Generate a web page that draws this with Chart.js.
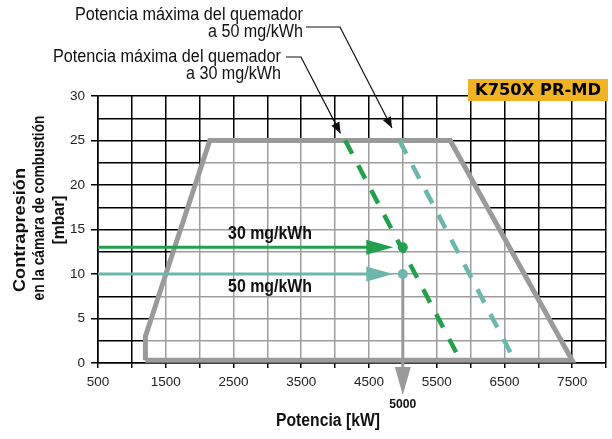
<!DOCTYPE html>
<html><head><meta charset="utf-8">
<script src="https://cdn.jsdelivr.net/npm/chart.js@4/dist/chart.umd.min.js"></script>
<style>html,body{margin:0;padding:0;background:#fff}#wrap{width:612px;height:439px;position:relative}</style>
</head><body><div id="wrap"><canvas id="c" width="612" height="439"></canvas></div>
<script>
// ---- data ----
const xTickLabels = [500, 1500, 2500, 3500, 4500, 5500, 6500, 7500];
const yTickLabels = [0, 5, 10, 15, 20, 25, 30];
const fieldX = [1200, 1200, 2150, 5700, 7500, 1200];
const fieldY = [0.3, 3, 25, 25, 0.3, 0.3];
const max30X = [4150, 5850];
const max30Y = [25, 0.3];
const max50X = [4950, 6650];
const max50Y = [25, 0.3];
const emissionLabels = ['30 mg/kWh', '50 mg/kWh'];
const opX = [5000, 5000];
const opY = [13, 10];
const arrowTipX = [4860, 4860];
const selectedPower = 5000;
const noteTipX = [4840, 4080];
const noteTipY = [26.4, 25.8];
const notes = [['Potencia máxima del quemador', 'a 50 mg/kWh'], ['Potencia máxima del quemador', 'a 30 mg/kWh']];
const modelName = 'K750X PR-MD';
const xTitle = 'Potencia [kW]';
const yTitle = ['Contrapresión', 'en la cámara de combustión', '[mbar]'];

const GREEN = '#22a04b', TEAL = '#6cb7ac', GREY = '#9a9a9a';
const SANS = "'Liberation Sans',Arial,sans-serif";

function fitText(ctx, text, x, y, width, font, align) {
  ctx.save();
  ctx.font = font;
  const m = ctx.measureText(text).width;
  const s = width / m;
  ctx.translate(x, y);
  ctx.scale(s, 1);
  ctx.textAlign = align || 'center';
  ctx.textBaseline = 'middle';
  ctx.fillText(text, 0, 0);
  ctx.restore();
}

const deco = {
  id: 'deco',
  afterDatasetDraw(chart, args) {
    if (args.index !== 1) return;
    const {ctx, scales: {x, y}, chartArea} = chart;
    ctx.save();
    // vertical selector line with arrow
    const px = x.getPixelForValue(selectedPower);
    const pyTop = y.getPixelForValue(opY[1]);
    const yb = chartArea.bottom;
    ctx.strokeStyle = GREY; ctx.fillStyle = GREY; ctx.lineWidth = 3;
    ctx.beginPath(); ctx.moveTo(px, pyTop); ctx.lineTo(px, yb + 6); ctx.stroke();
    ctx.beginPath(); ctx.moveTo(px - 8, yb + 4); ctx.lineTo(px + 8, yb + 4); ctx.lineTo(px, yb + 32); ctx.closePath(); ctx.fill();
    // horizontal arrows
    [GREEN, TEAL].forEach((col, i) => {
      const yy = y.getPixelForValue(opY[i]);
      const x0 = x.getPixelForValue(x.min);
      const xt = x.getPixelForValue(arrowTipX[i]);
      ctx.strokeStyle = col; ctx.fillStyle = col; ctx.lineWidth = 3;
      ctx.beginPath(); ctx.moveTo(x0, yy); ctx.lineTo(xt - 20, yy); ctx.stroke();
      ctx.beginPath(); ctx.moveTo(xt - 27, yy - 7.5); ctx.lineTo(xt, yy); ctx.lineTo(xt - 27, yy + 7.5); ctx.closePath(); ctx.fill();
    });
    ctx.restore();
  },
  afterDraw(chart) {
    const {ctx, scales: {x, y}} = chart;
    ctx.save();
    ctx.fillStyle = '#111';
    // emission labels
    const lx = x.getPixelForValue(3040);
    fitText(ctx, emissionLabels[0], lx, y.getPixelForValue(opY[0]) - 13, 84, 'bold 18px ' + SANS);
    fitText(ctx, emissionLabels[1], lx, y.getPixelForValue(opY[1]) + 13, 84, 'bold 18px ' + SANS);
    // 5000 label
    fitText(ctx, String(selectedPower), x.getPixelForValue(selectedPower), 404, 27, 'bold 13px ' + SANS);
    // axis titles
    fitText(ctx, xTitle, 328, 421, 104, 'bold 18px ' + SANS);
    const yc = [[20.5, 230, 124], [39.5, 208, 185], [59, 220, 49]];
    yTitle.forEach((t, i) => {
      ctx.save();
      ctx.translate(yc[i][0], yc[i][1]);
      ctx.rotate(-Math.PI / 2);
      fitText(ctx, t, 0, 0, yc[i][2], 'bold 17px ' + SANS);
      ctx.restore();
    });
    // notes
    const noteFont = '17.5px ' + SANS;
    fitText(ctx, notes[0][0], 303, 15, 228, noteFont, 'right');
    fitText(ctx, notes[0][1], 303, 32, 95, noteFont, 'right');
    fitText(ctx, notes[1][0], 281, 57, 228, noteFont, 'right');
    fitText(ctx, notes[1][1], 281, 74, 95, noteFont, 'right');
    // leaders
    const leaders = [[306, 27, 340], [286, 57, 301]];
    ctx.strokeStyle = '#111'; ctx.fillStyle = '#111'; ctx.lineWidth = 1.2;
    leaders.forEach((l, i) => {
      const tx = x.getPixelForValue(noteTipX[i]);
      const ty = y.getPixelForValue(noteTipY[i]);
      ctx.beginPath(); ctx.moveTo(l[0], l[1]); ctx.lineTo(l[2], l[1]); ctx.lineTo(tx, ty); ctx.stroke();
      const ang = Math.atan2(ty - l[1], tx - l[2]);
      const L = 11, W = 4.5;
      const bx = tx - L * Math.cos(ang), by = ty - L * Math.sin(ang);
      ctx.beginPath();
      ctx.moveTo(tx, ty);
      ctx.lineTo(bx + W * Math.sin(ang), by - W * Math.cos(ang));
      ctx.lineTo(bx - W * Math.sin(ang), by + W * Math.cos(ang));
      ctx.closePath(); ctx.fill();
    });
    // model badge
    ctx.fillStyle = '#f0b323';
    ctx.fillRect(468, 79, 140, 22);
    ctx.fillStyle = '#000';
    fitText(ctx, modelName, 538, 90.5, 126, "bold 16px 'DejaVu Sans',sans-serif");
    ctx.restore();
  }
};

new Chart(document.getElementById('c'), {
  type: 'scatter',
  data: {
    datasets: [
      {
        order: 4,
        data: fieldX.map((v, i) => ({x: v, y: fieldY[i]})),
        showLine: true, borderColor: GREY, borderWidth: 5, borderJoinStyle: 'miter',
        fill: 'shape', backgroundColor: 'rgba(255,255,255,0.62)', pointRadius: 0, tension: 0
      },
      {
        order: 2,
        data: max30X.map((v, i) => ({x: v, y: max30Y[i]})),
        showLine: true, borderColor: GREEN, borderWidth: 4.5, borderDash: [15, 13], pointRadius: 0
      },
      {
        order: 3,
        data: max50X.map((v, i) => ({x: v, y: max50Y[i]})),
        showLine: true, borderColor: TEAL, borderWidth: 4.5, borderDash: [15, 13], pointRadius: 0
      },
      {
        order: 1,
        data: opX.map((v, i) => ({x: v, y: opY[i]})),
        showLine: false, pointRadius: 5, pointBorderWidth: 0,
        pointBackgroundColor: [GREEN, TEAL], backgroundColor: [GREEN, TEAL]
      }
    ]
  },
  options: {
    responsive: false, animation: false, devicePixelRatio: 1,
    layout: {padding: {left: 0, right: 6, top: 96, bottom: 0}},
    plugins: {legend: {display: false}, tooltip: {enabled: false}},
    scales: {
      x: {
        type: 'linear', min: 500, max: 8000,
        afterFit: s => { s.height = 76; },
        ticks: {stepSize: 500, autoSkip: false, maxRotation: 0, padding: 6, color: '#222',
          font: {family: SANS, size: 13.5},
          callback: v => xTickLabels.includes(v) ? String(v) : ''},
        grid: {color: '#000', lineWidth: 1.5, tickLength: 5, tickColor: '#000'},
        border: {color: '#000', width: 1.5}
      },
      y: {
        type: 'linear', min: 0, max: 30,
        afterFit: s => { s.width = 98; },
        ticks: {stepSize: 2.5, autoSkip: false, padding: 6, color: '#222',
          font: {family: SANS, size: 13.5},
          callback: v => yTickLabels.includes(v) ? String(v) : ''},
        grid: {color: '#000', lineWidth: 1.5, tickLength: 7,
          tickColor: c => (c.tick && yTickLabels.includes(c.tick.value)) ? '#000' : 'rgba(0,0,0,0)'},
        border: {color: '#000', width: 1.5}
      }
    }
  },
  plugins: [deco]
});
</script></body></html>
